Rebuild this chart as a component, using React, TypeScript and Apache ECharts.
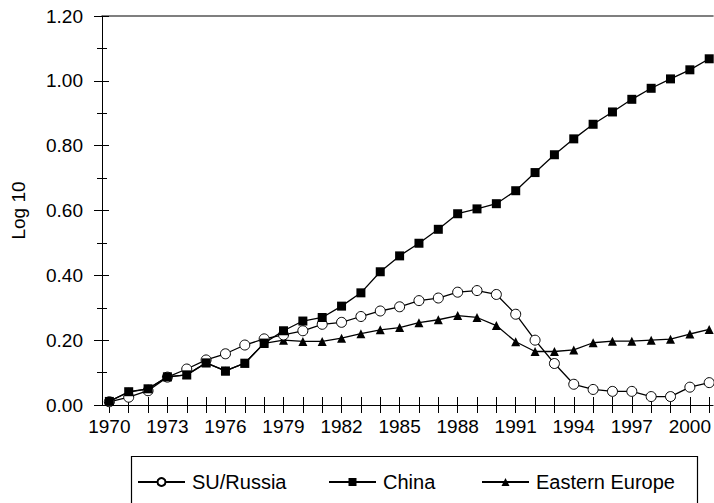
import React, { useEffect, useRef } from 'react';
import * as echarts from 'echarts';

const years = [
  1970, 1971, 1972, 1973, 1974, 1975, 1976, 1977, 1978, 1979, 1980, 1981, 1982, 1983, 1984, 1985,
  1986, 1987, 1988, 1989, 1990, 1991, 1992, 1993, 1994, 1995, 1996, 1997, 1998, 1999, 2000, 2001,
];
const suRussia = [
  0.01, 0.024, 0.044, 0.086, 0.111, 0.139, 0.158, 0.185, 0.204, 0.216, 0.229, 0.249, 0.255, 0.273, 0.29, 0.303,
  0.322, 0.33, 0.348, 0.353, 0.341, 0.28, 0.2, 0.128, 0.064, 0.048, 0.042, 0.042, 0.026, 0.026, 0.055, 0.069,
];
const china = [
  0.011, 0.041, 0.05, 0.087, 0.093, 0.13, 0.105, 0.129, 0.191, 0.229, 0.259, 0.27, 0.305, 0.346, 0.411, 0.46,
  0.499, 0.542, 0.59, 0.605, 0.621, 0.661, 0.717, 0.772, 0.821, 0.866, 0.904, 0.943, 0.977, 1.006, 1.034, 1.068,
];
const easternEurope = [
  0.011, 0.04, 0.05, 0.087, 0.093, 0.13, 0.105, 0.129, 0.19, 0.2, 0.196, 0.196, 0.206, 0.22, 0.232, 0.239,
  0.254, 0.263, 0.276, 0.27, 0.245, 0.195, 0.165, 0.165, 0.17, 0.192, 0.197, 0.197, 0.2, 0.203, 0.219, 0.233,
];
const xLabelYears = [1970, 1973, 1976, 1979, 1982, 1985, 1988, 1991, 1994, 1997, 2000];
const seriesNames = ['SU/Russia', 'China', 'Eastern Europe'];

const FONT = 'Liberation Sans, Arial, Helvetica, sans-serif';

export default function App() {
  const ref = useRef<HTMLDivElement>(null);

  useEffect(() => {
    if (!ref.current) return;
    const chart = echarts.init(ref.current, undefined, { renderer: 'svg' });
    const xMin = 1969.62;
    const xMax = 2001.2;
    const pairs = (vals: number[]) => years.map((y, i) => [y, vals[i]]);
    const baseX = {
      type: 'value' as const,
      min: xMin,
      max: xMax,
      splitLine: { show: false },
    };
    const baseY = {
      type: 'value' as const,
      min: 0,
      max: 1.2,
      interval: 0.2,
      splitLine: { show: false },
    };
    const legendCommon = {
      top: 472,
      padding: 0,
      itemWidth: 47,
      itemHeight: 10,
      itemGap: 0,
      textStyle: { fontSize: 20, color: '#000', fontFamily: FONT, padding: [0, 0, 0, 2] },
    };
    chart.setOption({
      animation: false,
      backgroundColor: '#fff',
      grid: { left: 102, right: 0, top: 16, bottom: 98, containLabel: false },
      xAxis: [
        {
          ...baseX,
          position: 'bottom',
          axisLine: { show: true, onZero: false, lineStyle: { color: '#000', width: 1 } },
          axisTick: { show: true, inside: false, length: 8, customValues: years, lineStyle: { color: '#000' } },
          axisLabel: {
            show: true,
            customValues: xLabelYears,
            margin: 12,
            fontSize: 19,
            color: '#000',
            fontFamily: FONT,
            formatter: (v: number) => String(Math.round(v)),
          },
        },
        {
          ...baseX,
          position: 'bottom',
          axisLine: { show: false, onZero: false },
          axisTick: { show: true, inside: true, length: 8, customValues: years, lineStyle: { color: '#000' } },
          axisLabel: { show: false },
        },
        {
          ...baseX,
          position: 'top',
          axisLine: { show: true, onZero: false, lineStyle: { color: '#555', width: 1.5 } },
          axisTick: { show: false },
          axisLabel: { show: false },
        },
      ],
      yAxis: [
        {
          ...baseY,
          position: 'left',
          name: 'Log 10',
          nameLocation: 'middle',
          nameGap: 74,
          nameTextStyle: { fontSize: 19, color: '#000', fontFamily: FONT },
          axisLine: { show: true, onZero: false, lineStyle: { color: '#000', width: 1 } },
          axisTick: { show: true, inside: false, length: 8, lineStyle: { color: '#000' } },
          minorTick: { show: true, splitNumber: 2, length: 5, lineStyle: { color: '#000' } },
          axisLabel: {
            margin: 19,
            fontSize: 19,
            color: '#000',
            fontFamily: FONT,
            formatter: (v: number) => v.toFixed(2),
          },
        },
        {
          ...baseY,
          position: 'left',
          axisLine: { show: false, onZero: false },
          axisTick: { show: true, inside: true, length: 7, lineStyle: { color: '#000' } },
          minorTick: { show: true, splitNumber: 2, length: 5, lineStyle: { color: '#000' } },
          axisLabel: { show: false },
        },
      ],
      legend: [
        { ...legendCommon, left: 137, data: [seriesNames[0]] },
        { ...legendCommon, left: 328, data: [seriesNames[1]] },
        { ...legendCommon, left: 481, data: [seriesNames[2]] },
      ],
      graphic: [
        {
          type: 'rect',
          left: 129,
          top: 454,
          shape: { x: 0, y: 0, width: 566, height: 70 },
          style: { fill: 'none', stroke: '#000', lineWidth: 1.2 },
          silent: true,
        },
      ],
      series: [
        {
          name: seriesNames[2],
          type: 'line',
          data: pairs(easternEurope),
          symbol: 'triangle',
          symbolSize: 9,
          z: 2,
          lineStyle: { color: '#000', width: 1.3 },
          itemStyle: { color: '#000' },
        },
        {
          name: seriesNames[0],
          type: 'line',
          data: pairs(suRussia),
          symbol: 'circle',
          symbolSize: 10,
          showAllSymbol: true,
          z: 3,
          lineStyle: { color: '#000', width: 1.3 },
          itemStyle: { color: '#fff', borderColor: '#000', borderWidth: 1 },
        },
        {
          name: seriesNames[1],
          type: 'line',
          data: pairs(china),
          symbol: 'rect',
          symbolSize: 9,
          z: 4,
          lineStyle: { color: '#000', width: 1.3 },
          itemStyle: { color: '#000' },
        },
      ],
    });
    return () => chart.dispose();
  }, []);

  return (
    <div
      ref={ref}
      style={{ position: 'fixed', left: 0, top: 0, width: 714, height: 503, background: '#fff' }}
    />
  );
}
